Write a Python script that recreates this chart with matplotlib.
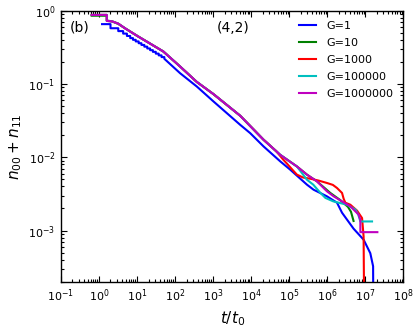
import numpy as np
import matplotlib
matplotlib.use('Agg')
import matplotlib.pyplot as plt
from matplotlib.ticker import LogLocator, NullFormatter

# G=1 : early staircase (steps-post) then smooth part
g1_step_t = [1.2, 2.0, 3.2, 4.3, 5.4, 6.6, 7.8, 9.2, 11, 13, 15.5, 18.5, 22, 26, 31, 37, 44]
g1_step_y = [0.66, 0.58, 0.53, 0.49, 0.455, 0.425, 0.403, 0.383, 0.362, 0.343,
             0.325, 0.307, 0.291, 0.276, 0.261, 0.247, 0.234]
g1_t = [52, 135, 372, 1018, 5130, 9400, 21080, 58000, 1.06e5, 2.92e5, 4.36e5,
        9.8e5, 1.8e6, 2.44e6, 4.9e6, 9.0e6, 1.35e7, 1.6e7, 1.65e7]
g1_y = [0.222, 0.141, 0.0927, 0.058, 0.0278, 0.0214, 0.0141, 0.0088, 0.00678, 0.00423,
        0.00361, 0.00293, 0.0024, 0.00175, 0.00106, 0.00075, 0.00049, 0.000325, 1e-5]

# G=10
g10_t = [0.64, 1.6, 1.6, 2.2, 3.2, 4.8, 7.3, 10.8, 16, 49, 135, 372, 1018, 5130, 21080,
         58000, 1.59e5, 2.92e5, 5.36e5, 1.2e6, 2.2e6, 3.5e6, 4.2e6, 4.9e6]
g10_y = [0.86, 0.86, 0.74, 0.72, 0.665, 0.58, 0.506, 0.446, 0.395, 0.279, 0.174, 0.107,
         0.073, 0.037, 0.0174, 0.0108, 0.0075, 0.0058, 0.00469, 0.00326, 0.0026, 0.0021,
         0.0018, 0.00135]

# G=1000
g1000_t = [0.64, 1.6, 1.6, 2.2, 3.2, 4.8, 7.3, 10.8, 16, 49, 135, 372, 1018, 5130, 21080,
           45000, 6.95e4, 8.7e4, 1.2e5, 1.59e5, 2.3e5, 3.57e5, 6e5, 9.8e5, 1.4e6, 1.8e6,
           2.44e6, 2.7e6, 2.98e6, 4.03e6, 6.05e6, 8.2e6, 9.0e6, 9.6e6]
g1000_y = [0.882, 0.882, 0.73, 0.72, 0.67, 0.58, 0.506, 0.446, 0.395, 0.279, 0.174, 0.107,
           0.073, 0.037, 0.0174, 0.0122, 0.0093, 0.0082, 0.0068, 0.0058, 0.0053, 0.0051,
           0.0048, 0.00446, 0.0042, 0.00381, 0.00326, 0.0027, 0.0024, 0.00225, 0.00187,
           0.00148, 0.00083, 1e-5]

# G=100000
g1e5_t = [0.64, 1.6, 1.6, 2.2, 3.2, 4.8, 7.3, 10.8, 16, 49, 135, 372, 1018, 5130, 21080,
          58000, 1.59e5, 2.92e5, 4.28e5, 6.5e5, 8.9e5, 1.44e6, 3.3e6, 5.5e6, 6.5e6, 7.4e6, 1.5e7]
g1e5_y = [0.882, 0.882, 0.73, 0.72, 0.67, 0.58, 0.506, 0.446, 0.395, 0.279, 0.174, 0.107,
          0.073, 0.037, 0.0174, 0.0108, 0.0075, 0.00494, 0.00423, 0.00329, 0.00279, 0.0025,
          0.00225, 0.00193, 0.00165, 0.00133, 0.00133]

# G=1000000
g1e6_t = [0.64, 1.6, 1.6, 2.2, 3.2, 4.8, 7.3, 10.8, 16, 49, 135, 372, 1018, 5130, 21080,
          58000, 1.59e5, 2.92e5, 5.36e5, 9.8e5, 1.47e6, 4.03e6, 6.66e6, 7.4e6, 7.4e6, 2.07e7]
g1e6_y = [0.882, 0.882, 0.73, 0.72, 0.67, 0.58, 0.506, 0.446, 0.395, 0.279, 0.174, 0.107,
          0.073, 0.037, 0.0174, 0.0108, 0.0075, 0.0058, 0.00469, 0.00343, 0.00293, 0.00214,
          0.00165, 0.0014, 0.00095, 0.00095]

labels = ['G=1', 'G=10', 'G=1000', 'G=100000', 'G=1000000']
colors = ['b', 'g', 'r', 'c', 'm']

# build G=1 staircase coordinates
st = np.array(g1_step_t)
sy = np.array(g1_step_y)
stair_t = np.repeat(st, 2)[1:]
stair_t = np.append(stair_t, g1_t[0])
stair_y = np.repeat(sy, 2)
g1_all_t = np.concatenate([stair_t, g1_t])
g1_all_y = np.concatenate([stair_y, g1_y])

series = [(g1_all_t, g1_all_y), (g10_t, g10_y), (g1000_t, g1000_y),
          (g1e5_t, g1e5_y), (g1e6_t, g1e6_y)]

fig = plt.figure(figsize=(4.15, 3.31), dpi=100)
ax = fig.add_axes([0.147, 0.149, 0.825, 0.818])

for (t, y), lab, c in zip(series, labels, colors):
    ax.plot(t, y, color=c, lw=1.5, label=lab)

ax.set_xscale('log')
ax.set_yscale('log')
ax.set_xlim(1e-1, 1e8)
ax.set_ylim(2e-4, 1)

ax.xaxis.set_major_locator(LogLocator(base=10, numticks=20))
ax.xaxis.set_minor_locator(LogLocator(base=10, subs=np.arange(2, 10), numticks=20))
ax.xaxis.set_minor_formatter(NullFormatter())
ax.yaxis.set_major_locator(LogLocator(base=10, numticks=20))
ax.yaxis.set_minor_locator(LogLocator(base=10, subs=np.arange(2, 10), numticks=20))
ax.yaxis.set_minor_formatter(NullFormatter())

ax.tick_params(which='both', direction='in', top=True, right=True, labelsize=8, width=0.8)
ax.tick_params(which='major', length=4, pad=4)
ax.tick_params(which='minor', length=2)
for s in ax.spines.values():
    s.set_linewidth(1.0)

ax.set_xlabel(r'$t/t_0$', fontsize=11)
ax.set_ylabel(r'$n_{00}+n_{11}$', fontsize=11, labelpad=3)

ax.text(0.026, 0.938, '(b)', transform=ax.transAxes, fontsize=10, va='center', ha='left')
ax.text(0.503, 0.938, '(4,2)', transform=ax.transAxes, fontsize=10, va='center', ha='center')

ax.legend(loc='upper left', bbox_to_anchor=(0.695, 0.962), frameon=False, fontsize=8,
          borderaxespad=0, borderpad=0, handlelength=1.5, handletextpad=1.0,
          labelspacing=0.62)

fig.savefig('out.png', dpi=100)
